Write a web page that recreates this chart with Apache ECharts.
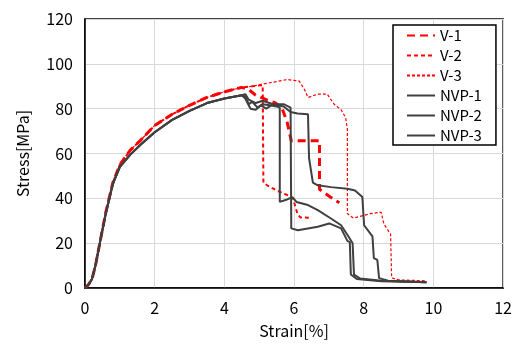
<!DOCTYPE html>
<html>
<head>
<meta charset="utf-8">
<script src="https://cdn.jsdelivr.net/npm/echarts@6/dist/echarts.min.js"></script>
<style>html,body{margin:0;padding:0;background:#fff;}#c{width:515px;height:344px;}</style>
</head>
<body>
<div id="c"></div>
<script>
// Shared rising part (strain %, stress MPa)
var riseStrain = [0, 0.1, 0.2, 0.3, 0.45, 0.6, 0.8, 1.0, 1.3, 1.6, 2.0, 2.5, 3.0, 3.5, 4.0, 4.5];
var redRise    = [0, 1.5, 4, 10, 22, 34, 47, 55, 61.5, 66, 72.5, 77.5, 81.5, 85, 87.5, 89.5];
var blackRise  = [0, 1.5, 4, 10, 22, 33.5, 46.5, 54, 59.5, 64, 69.5, 75, 79, 82.5, 84.5, 86];

var v1Strain = [4.7, 4.9, 5.2, 5.45, 5.65, 5.8, 5.92, 6.73, 6.73, 6.87, 7.05, 7.3];
var v1Stress = [88.5, 86, 84, 82.7, 80.5, 74, 65.7, 65.7, 44, 42.5, 40.5, 38];

var v2Strain = [4.8, 5.1, 5.12, 5.26, 5.5, 5.83, 5.97, 6.1, 6.18, 6.5];
var v2Stress = [90, 90.5, 47, 45.5, 43.5, 41.3, 39.9, 33, 31.5, 31.3];

var v3Strain = [4.8, 5.1, 5.4, 5.8, 6.15, 6.3, 6.4, 6.68, 6.95, 7.15, 7.35, 7.48, 7.53, 7.53, 7.7, 8.2, 8.5, 8.58, 8.77, 8.8, 9.0, 9.8];
var v3Stress = [90, 91, 91.8, 93, 92.3, 88.5, 85, 86.5, 86.5, 82, 79.5, 76, 71, 33.2, 31.2, 33.2, 33.8, 28.5, 24, 4.5, 3.6, 3.2];

var n1Strain = [4.6, 4.7, 4.8, 4.95, 5.1, 5.3, 5.5, 5.59, 5.59, 5.8, 5.95, 6.07, 6.4, 6.68, 7.06, 7.35, 7.58, 7.68, 7.72, 7.9, 8.5, 9.8];
var n1Stress = [85.5, 82, 83, 80.5, 82, 81.5, 81, 80.5, 38.4, 39.5, 40.5, 38.4, 37, 34.7, 31, 28, 22.5, 20, 6, 4.2, 3.2, 2.6];

var n2Strain = [4.6, 4.75, 4.9, 5.05, 5.2, 5.4, 5.7, 5.9, 5.92, 6.11, 6.68, 7.01, 7.35, 7.53, 7.6, 7.63, 7.8, 8.5, 9.8];
var n2Stress = [84.5, 80, 79.5, 81.5, 80, 82, 82, 80.5, 26.6, 25.8, 27.3, 28.8, 26.6, 21, 20.5, 6, 4, 3, 2.6];

var n3Strain = [4.6, 4.7, 4.9, 5.1, 5.4, 5.7, 5.9, 6.1, 6.4, 6.43, 6.54, 6.68, 7.06, 7.53, 7.75, 7.96, 8.01, 8.25, 8.29, 8.39, 8.44, 8.7, 9.8];
var n3Stress = [86.5, 84, 82.5, 83.5, 82, 81, 78.5, 77.8, 77.5, 58, 47, 45.8, 45, 44.3, 43.5, 40.6, 28, 23, 13.3, 12.5, 4.4, 3.2, 2.6];

var xTicks = [0, 2, 4, 6, 8, 10, 12];
var yTicks = [0, 20, 40, 60, 80, 100, 120];

function pairs(xa, ya) { return xa.map(function (x, i) { return [x, ya[i]]; }); }
function build(riseY, xs, ys) { return pairs(riseStrain, riseY).concat(pairs(xs, ys)); }

var font = '"Noto Sans CJK JP", "Noto Sans", sans-serif';
var red = '#ff0000', dark = '#404040';

var series = [
  {name: 'V-1', data: build(redRise, v1Strain, v1Stress), color: red, lineStyle: {width: 3, type: [8, 5], color: red}},
  {name: 'V-2', data: build(redRise, v2Strain, v2Stress), color: red, lineStyle: {width: 2, type: [4, 3], color: red}},
  {name: 'V-3', data: build(redRise, v3Strain, v3Stress), color: red, lineStyle: {width: 1.2, type: [3, 2], color: red}},
  {name: 'NVP-1', data: build(blackRise, n1Strain, n1Stress), color: dark, lineStyle: {width: 2, color: dark}},
  {name: 'NVP-2', data: build(blackRise, n2Strain, n2Stress), color: dark, lineStyle: {width: 2, color: dark}},
  {name: 'NVP-3', data: build(blackRise, n3Strain, n3Stress), color: dark, lineStyle: {width: 2, color: dark}}
].map(function (s) {
  s.type = 'line'; s.symbol = 'none'; s.showSymbol = false; s.animation = false;
  return s;
});

var chart = echarts.init(document.getElementById('c'), null, {renderer: 'canvas'});
chart.setOption({
  animation: false,
  backgroundColor: '#fff',
  grid: {left: 85, right: 8, top: 19, bottom: 54, show: true, borderColor: '#000', borderWidth: 1.5, backgroundColor: 'transparent'},
  legend: {
    left: 393, top: 25, orient: 'vertical',
    width: 106,
    backgroundColor: '#fff', borderColor: '#000', borderWidth: 1.5,
    padding: [3, 14, 2, 13],
    itemWidth: 28, itemHeight: 14, itemGap: 5,
    itemStyle: {opacity: 0},
    textStyle: {fontFamily: font, fontSize: 15, color: '#000'},
    data: ['V-1', 'V-2', 'V-3', 'NVP-1', 'NVP-2', 'NVP-3']
  },
  xAxis: {
    type: 'value', min: xTicks[0], max: xTicks[xTicks.length - 1], interval: 2,
    name: 'Strain[%]', nameLocation: 'middle', nameGap: 35,
    nameTextStyle: {fontFamily: font, fontSize: 16, color: '#000'},
    axisLine: {show: true, lineStyle: {color: '#000', width: 1.5}},
    axisTick: {show: false},
    axisLabel: {fontFamily: font, fontSize: 16, color: '#000', margin: 12},
    splitLine: {show: true, lineStyle: {color: '#d9d9d9', width: 1}}
  },
  yAxis: {
    type: 'value', min: yTicks[0], max: yTicks[yTicks.length - 1], interval: 20,
    name: 'Stress[MPa]', nameLocation: 'middle', nameGap: 54,
    nameTextStyle: {fontFamily: font, fontSize: 16, color: '#000'},
    axisLine: {show: true, lineStyle: {color: '#000', width: 1.5}},
    axisTick: {show: false},
    axisLabel: {fontFamily: font, fontSize: 16, color: '#000', margin: 12},
    splitLine: {show: true, lineStyle: {color: '#d9d9d9', width: 1}}
  },
  series: series
});
</script>
</body>
</html>
